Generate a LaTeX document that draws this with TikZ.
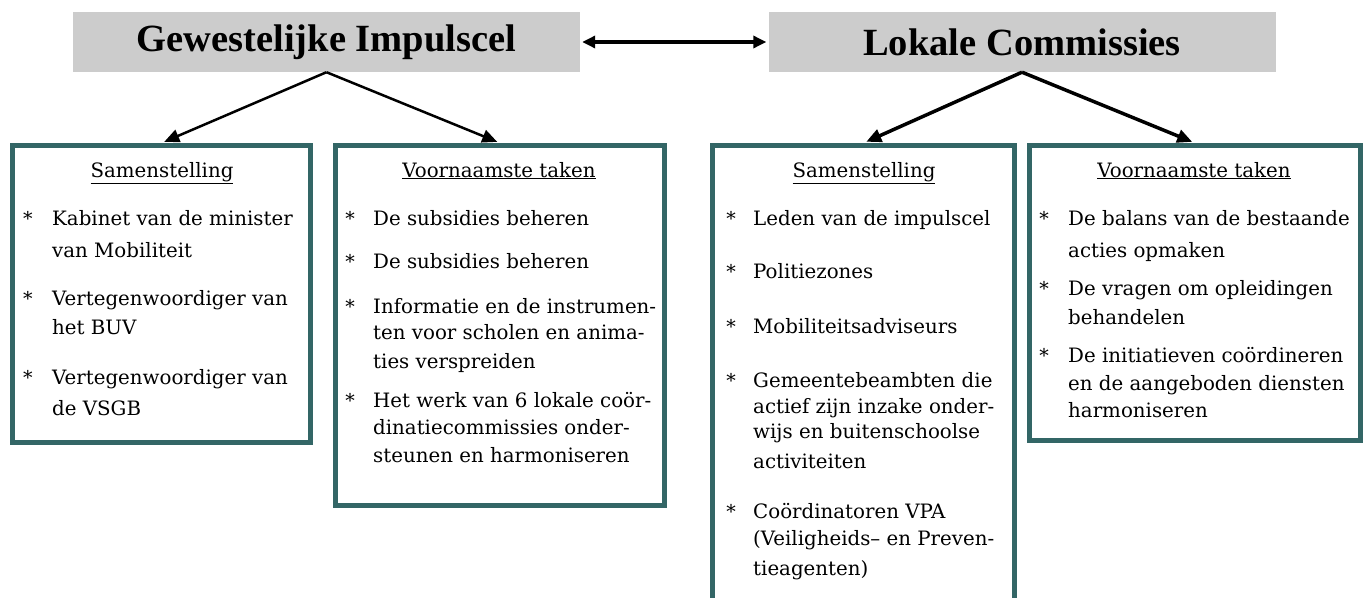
\documentclass[tikz,border=0pt]{standalone}
\usepackage{fontspec}
\setmainfont{DejaVu Serif}
\newfontfamily\headserif{Liberation Serif}
\usetikzlibrary{arrows.meta, positioning}
\definecolor{cellgray}{HTML}{CCCCCC}
\definecolor{frameteal}{HTML}{336666}
\newcommand\titlefont{\headserif\bfseries\fontsize{38.5}{42}\selectfont}
\newcommand\bodyfont{\fontsize{19.8}{24}\selectfont}
\newcommand\astfont{\fontsize{19}{22}\selectfont}

\begin{document}
\begin{tikzpicture}[x=1pt, y=-1pt,
  titlebox/.style={fill=cellgray, minimum width=507pt, minimum height=60pt, inner sep=0pt, font=\titlefont},
  panel/.style={draw=frameteal, line width=5pt, inner sep=0pt},
  head/.style={anchor=base, inner sep=0pt, font=\bodyfont},
  txt/.style={anchor=base west, inner sep=0pt, font=\bodyfont},
  ast/.style={anchor=base, inner sep=0pt, font=\astfont},
  link/.style={-{Triangle[length=15pt, width=13pt]}, shorten >=3pt}]

\useasboundingbox (0,0) rectangle (1367,597);
\clip (0,0) rectangle (1367,597);

% ---- top boxes
\node[titlebox] (gic) at (326.5,42) {Gewestelijke Impulscel};
\node[titlebox] (lc) at (1022,42) {Lokale Commissies};
\draw[line width=3.2pt, {Triangle[length=13pt, width=12pt]}-{Triangle[length=13pt, width=12pt]},
      shorten <=2pt, shorten >=2pt] (gic.east) -- (lc.west);

% ---- panels
\node[panel, minimum width=298pt, minimum height=297pt] (samGI) at (161.5,294) {};
\node[panel, minimum width=329pt, minimum height=360pt] (takGI) at (500,325.5) {};
\node[panel, minimum width=302pt, minimum height=480pt] (samLC) at (863.5,385.5) {};
\node[panel, minimum width=331pt, minimum height=295pt] (takLC) at (1195,293) {};

\draw[link, line width=2.5pt] (gic.south) -- (samGI.north);
\draw[link, line width=2.5pt] (gic.south) -- (takGI.north);
\draw[link, line width=3.5pt] (lc.south) -- (samLC.north);
\draw[link, line width=3.5pt] (lc.south) -- (takLC.north);

% ============================================== samenstelling impulscel
\node[head] (hsamGI) at (162,177) {\underline{Samenstelling}};
\foreach \y in {225,305,384}
  \node[ast] (a1-\y) at (28,\y) {*};
\foreach \y/\lbl in {225/Kabinet van de minister, 257/van Mobiliteit,
    305/Vertegenwoordiger van, 334/het BUV, 384/Vertegenwoordiger van, 415/de VSGB}
  \node[txt] (t1-\y) at (52,\y) {\lbl};

% ============================================== taken impulscel
\node[head] (htakGI) at (499,177) {\underline{Voornaamste taken}};
\foreach \y in {225,268,313,407}
  \node[ast] (a2-\y) at (350,\y) {*};
\foreach \y/\lbl in {225/De subsidies beheren, 268/De subsidies beheren,
    313/Informatie en de instrumen-, 339/ten voor scholen en anima-, 368/ties verspreiden,
    407/Het werk van 6 lokale coör-, 434/dinatiecommissies onder-, 462/steunen en harmoniseren}
  \node[txt] (t2-\y) at (373,\y) {\lbl};

% ============================================== samenstelling commissies
\node[head] (hsamLC) at (864,177) {\underline{Samenstelling}};
\foreach \y in {225,278,333,387,518}
  \node[ast] (a3-\y) at (731,\y) {*};
\foreach \y/\lbl in {225/Leden van de impulscel, 278/Politiezones, 333/Mobiliteitsadviseurs,
    387/Gemeentebeambten die, 413/actief zijn inzake onder-, 438/wijs en buitenschoolse,
    468/activiteiten, 518/Coördinatoren VPA, 545/(Veiligheids-- en Preven-, 575/tieagenten)}
  \node[txt] (t3-\y) at (753,\y) {\lbl};

% ============================================== taken commissies
\node[head] (htakLC) at (1194,177) {\underline{Voornaamste taken}};
\foreach \y in {225,295,362}
  \node[ast] (a4-\y) at (1044,\y) {*};
\foreach \y/\lbl in {225/De balans van de bestaande, 257/acties opmaken,
    295/De vragen om opleidingen, 324/behandelen,
    362/De initiatieven coördineren, 390/en de aangeboden diensten, 417/harmoniseren}
  \node[txt] (t4-\y) at (1068,\y) {\lbl};

\end{tikzpicture}
\end{document}
